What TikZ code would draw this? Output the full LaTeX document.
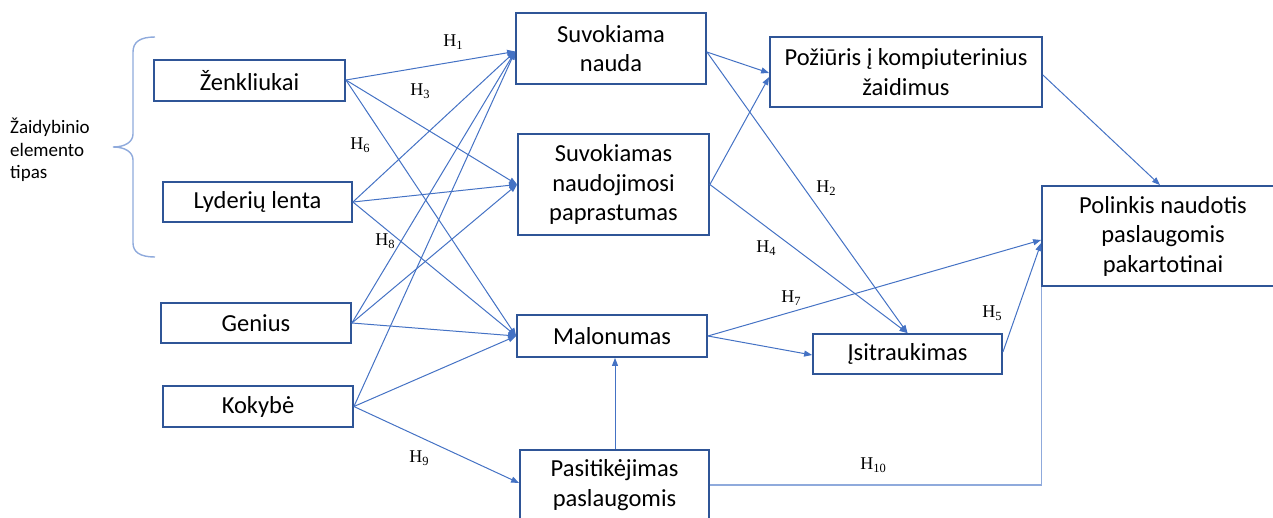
\documentclass[tikz,border=0pt]{standalone}
\usepackage{fontspec}
\setmainfont{Carlito}
\newfontfamily\hfont{Liberation Serif}
\usetikzlibrary{arrows.meta}
\definecolor{boxblue}{HTML}{2F5597}
\definecolor{linkblue}{HTML}{4472C4}
\definecolor{lightblue}{HTML}{8FAADC}
\newcommand\hsub[1]{H\raisebox{-3.5pt}{\fontsize{12.5}{12.5}\selectfont #1}}
\begin{document}
\begin{tikzpicture}[x=1pt,y=-1pt,
  box/.style={draw=boxblue, line width=1.8pt, align=center, inner sep=2pt,
    font=\fontsize{24.5}{29.5}\selectfont, text=black},
  link/.style={draw=linkblue, line width=1pt, -{Triangle[length=8pt,width=6pt]}},
  plainlink/.style={draw=lightblue, line width=1.2pt},
  hlab/.style={font=\hfont\fontsize{18}{18}\selectfont, inner sep=0pt},
  bracestyle/.style={draw=lightblue, line width=1.4pt}]
\useasboundingbox (0,0) rectangle (1273,517);
\clip (0,0) rectangle (1273,517);

% left nodes
\node[box, minimum width=191pt, minimum height=41pt] (zk) at (249.5,80.5) {Ženkliukai};
\node[box, minimum width=189pt, minimum height=40pt] (ly) at (257.5,202) {Lyderių lenta};
\node[box, minimum width=190pt, minimum height=40pt] (ge) at (256,323) {Genius};
\node[box, minimum width=190pt, minimum height=41pt] (ko) at (258,406.5) {Kokybė};

% middle nodes
\node[box, minimum width=190pt, minimum height=71pt] (sn) at (611,48.5) {Suvokiama\\nauda};
\node[box, minimum width=191pt, minimum height=101pt] (snp) at (613.5,184.5) {Suvokiamas\\naudojimosi\\paprastumas};
\node[box, minimum width=190pt, minimum height=42pt] (mal) at (612,336) {Malonumas};
\node[box, minimum width=189pt, minimum height=70pt] (pas) at (614.5,485) {Pasitikėjimas\\paslaugomis};

% right nodes
\node[box, minimum width=272pt, minimum height=70pt] (poz) at (906,72) {Požiūris į kompiuterinius\\žaidimus};
\node[box, minimum width=189pt, minimum height=40pt] (isit) at (907.5,354) {Įsitraukimas};
\node[box, minimum width=242pt, minimum height=100pt] (pol) at (1163,236) {Polinkis naudotis\\paslaugomis\\pakartotinai};

% brace and side label
\draw[bracestyle] (155,37) .. controls (140,37) and (133,42) .. (133,52)
  -- (133,134) .. controls (133,142) and (125,147) .. (113,147)
  .. controls (125,147) and (133,152) .. (133,160)
  -- (133,243) .. controls (133,252) and (140,257) .. (155,257);
\node[anchor=west, align=left, inner sep=0pt, font=\fontsize{19}{22.5}\selectfont] (side) at (10,150) {Žaidybinio\\elemento\\tipas};

% connectors from left nodes
\coordinate (snin) at ([yshift=-3pt]sn.west);
\draw[link] ([yshift=0.5pt]zk.east) -- (snin);
\draw[link] ([yshift=0.5pt]zk.east) -- (snp.west);
\draw[link] ([yshift=0.5pt]zk.east) -- (mal.west);
\draw[link] (ly.east) -- (snin);
\draw[link] (ly.east) -- (snp.west);
\draw[link] (ly.east) -- (mal.west);
\draw[link] (ge.east) -- (snin);
\draw[link] (ge.east) -- (snp.west);
\draw[link] (ge.east) -- (mal.west);
\draw[link] (ko.east) -- (snin);
\draw[link] (ko.east) -- (mal.west);
\draw[link] (ko.east) -- ([yshift=2pt]pas.west);

% middle connectors
\coordinate (snout) at ([yshift=-3.5pt]sn.east);
\draw[link] (snout) -- ([yshift=-1pt]poz.west);
\draw[link] (snout) -- (isit.north);
\draw[link] (snp.east) -- ([yshift=-5pt]poz.west);
\draw[link] (snp.east) -- (isit.north);
\draw[link] (mal.east) -- ([yshift=-4pt]pol.west);
\draw[link] (mal.east) -- ([yshift=-1pt]isit.west);
\draw[link] ([yshift=2pt]isit.east) -- ([yshift=-7pt]pol.west);
\draw[link] ([yshift=-3pt]poz.east) -- ([xshift=-3pt]pol.north);
\draw[link] (pas.north -| 615,0) -- (mal.south -| 615,0);
\draw[plainlink] (pas.east) -- (pol.south west |- pas.east) -- (pol.south west);

% hypothesis labels
\node[hlab] (h1) at (453,42) {\hsub{1}};
\node[hlab] (h3) at (420,91) {\hsub{3}};
\node[hlab] (h6) at (360,145) {\hsub{6}};
\node[hlab] (h8) at (385,241) {\hsub{8}};
\node[hlab] (h9) at (419,458) {\hsub{9}};
\node[hlab] (h2) at (826,188) {\hsub{2}};
\node[hlab] (h4) at (766,248) {\hsub{4}};
\node[hlab] (h7) at (791,298) {\hsub{7}};
\node[hlab] (h5) at (992,313) {\hsub{5}};
\node[hlab] (h10) at (873,465) {\hsub{10}};
\end{tikzpicture}
\end{document}
